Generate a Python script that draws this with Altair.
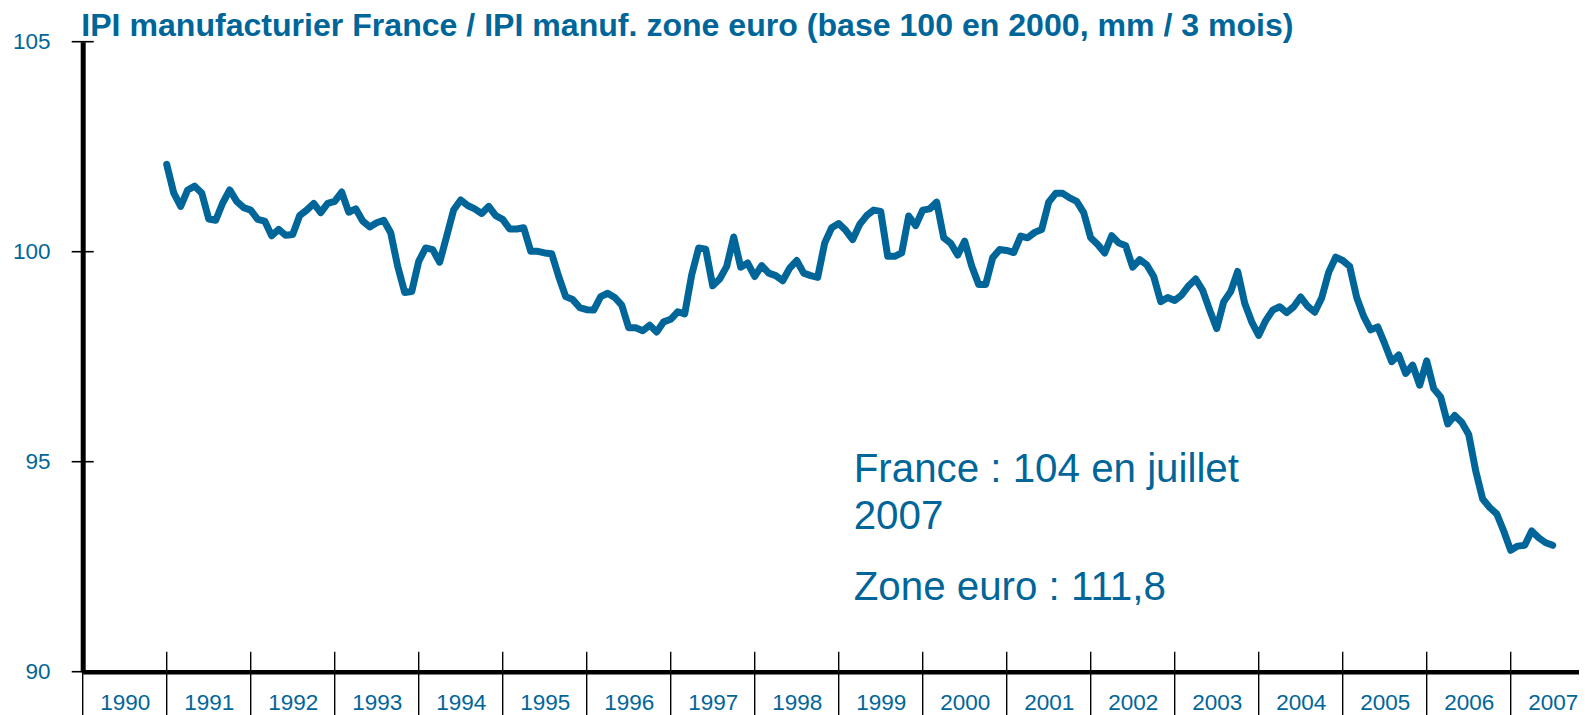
import altair as alt
import pandas as pd

# ---------------- data ----------------
title_text = "IPI manufacturier France / IPI manuf. zone euro (base 100 en 2000, mm / 3 mois)"
note_lines = ["France : 104 en juillet", "2007", "Zone euro : 111,8"]
years = list(range(1990, 2008))
y_ticks = [90, 95, 100, 105]
start_year = 1991  # monthly series starts January 1991, ends July 2007

ratio = [
    # 1991
    102.08, 101.40, 101.08, 101.47, 101.56, 101.40, 100.78, 100.75, 101.16, 101.47, 101.20, 101.05,
    # 1992
    100.99, 100.77, 100.73, 100.38, 100.53, 100.39, 100.41, 100.86, 100.99, 101.15, 100.93, 101.15,
    # 1993
    101.20, 101.42, 100.94, 101.02, 100.73, 100.59, 100.69, 100.75, 100.45, 99.65, 99.03, 99.05,
    # 1994
    99.77, 100.09, 100.05, 99.75, 100.37, 101.00, 101.23, 101.10, 101.02, 100.91, 101.08, 100.86,
    # 1995
    100.77, 100.54, 100.54, 100.57, 100.01, 100.01, 99.97, 99.95, 99.41, 98.93, 98.86, 98.67,
    # 1996
    98.62, 98.61, 98.93, 99.01, 98.91, 98.73, 98.19, 98.19, 98.12, 98.25, 98.09, 98.33,
    # 1997
    98.39, 98.57, 98.52, 99.45, 100.09, 100.06, 99.19, 99.35, 99.65, 100.35, 99.63, 99.73,
    # 1998
    99.41, 99.67, 99.49, 99.43, 99.31, 99.61, 99.79, 99.49, 99.43, 99.39, 100.21, 100.57,
    # 1999
    100.67, 100.51, 100.29, 100.65, 100.86, 100.99, 100.96, 99.89, 99.89, 99.97, 100.85, 100.62,
    # 2000
    100.99, 101.02, 101.18, 100.33, 100.20, 99.92, 100.25, 99.66, 99.22, 99.22, 99.86, 100.05,
    # 2001
    100.03, 99.98, 100.37, 100.33, 100.46, 100.53, 101.18, 101.39, 101.39, 101.28, 101.20, 100.93,
    # 2002
    100.33, 100.17, 99.97, 100.38, 100.21, 100.14, 99.63, 99.81, 99.69, 99.41, 98.81, 98.91,
    # 2003
    98.84, 98.97, 99.19, 99.35, 99.08, 98.61, 98.17, 98.81, 99.05, 99.53, 98.77, 98.33,
    # 2004
    98.01, 98.36, 98.61, 98.69, 98.55, 98.69, 98.92, 98.70, 98.56, 98.90, 99.51, 99.87,
    # 2005
    99.79, 99.65, 98.91, 98.46, 98.14, 98.21, 97.81, 97.38, 97.54, 97.10, 97.30, 96.82,
    # 2006
    97.40, 96.74, 96.54, 95.90, 96.10, 95.94, 95.65, 94.78, 94.11, 93.91, 93.76, 93.35,
    # 2007
    92.89, 92.99, 93.01, 93.35, 93.19, 93.07, 93.01,
]

# ---------------- styling ----------------
BLUE = "#006699"
FONT = "Liberation Sans"
PAD_L, PAD_T = 74.7, 33.7
W, H = 1571 - PAD_L, 630
PX_PER_YEAR = 84.0
x_max = 1990 + W / PX_PER_YEAR

df = pd.DataFrame({"t": [start_year + i / 12 for i in range(len(ratio))], "v": ratio})
years_df = pd.DataFrame({"t": years})
yt_df = pd.DataFrame({"v": y_ticks})

xs = alt.Scale(domain=[1990, x_max], nice=False, zero=False)
ys = alt.Scale(domain=[90, 105], nice=False, zero=False)

line = alt.Chart(df).mark_line(
    color=BLUE, strokeWidth=7, strokeCap="round", strokeJoin="round"
).encode(
    x=alt.X("t:Q", scale=xs, axis=alt.Axis(
        values=[y + 0.5 for y in years], labelExpr="floor(datum.value) + ''",
        ticks=False, tickSize=0, grid=False, domainColor="black", domainWidth=4.5,
        labelFontSize=22.5, labelColor=BLUE, labelFont=FONT, labelPadding=20,
        labelFlush=False, labelOverlap=False, title=None)),
    y=alt.Y("v:Q", scale=ys, axis=alt.Axis(
        values=y_ticks, ticks=False, tickSize=0, grid=False, domainColor="black",
        domainWidth=5, labelFontSize=22.5, labelColor=BLUE, labelFont=FONT,
        labelPadding=32.7, title=None)),
)

separators = alt.Chart(years_df).mark_rule(color="black", strokeWidth=1.4).encode(
    x=alt.X("t:Q", scale=xs),
    y=alt.value(610),
    y2=alt.value(H + 60),
)

yticks = alt.Chart(yt_df).mark_rule(color="black", strokeWidth=1.6).encode(
    y=alt.Y("v:Q", scale=ys),
    x=alt.value(-11),
    x2=alt.value(11),
)

title = alt.Chart(pd.DataFrame({"s": [title_text]})).mark_text(
    align="left", baseline="alphabetic", fontSize=32.1, fontWeight="bold", font=FONT, color=BLUE
).encode(text="s:N", x=alt.value(-1.4), y=alt.value(-6))

note_y = [440, 487.6, 558.3]
notes = alt.Chart(pd.DataFrame({"s": note_lines, "py": note_y})).mark_text(
    align="left", baseline="alphabetic", fontSize=40.3, font=FONT, color=BLUE
).encode(text="s:N", x=alt.value(771), y=alt.Y("py:Q", scale=None, axis=None))

chart = alt.layer(separators, line, yticks, title, notes).properties(
    width=W, height=H,
    padding={"left": PAD_L, "top": PAD_T, "right": 0, "bottom": 715 - 8 - PAD_T - H},
    autosize=alt.AutoSizeParams(type="none"),
).configure(font=FONT).configure_view(stroke=None)

chart.save("out.html", embed_options={"renderer": "svg", "actions": False})
